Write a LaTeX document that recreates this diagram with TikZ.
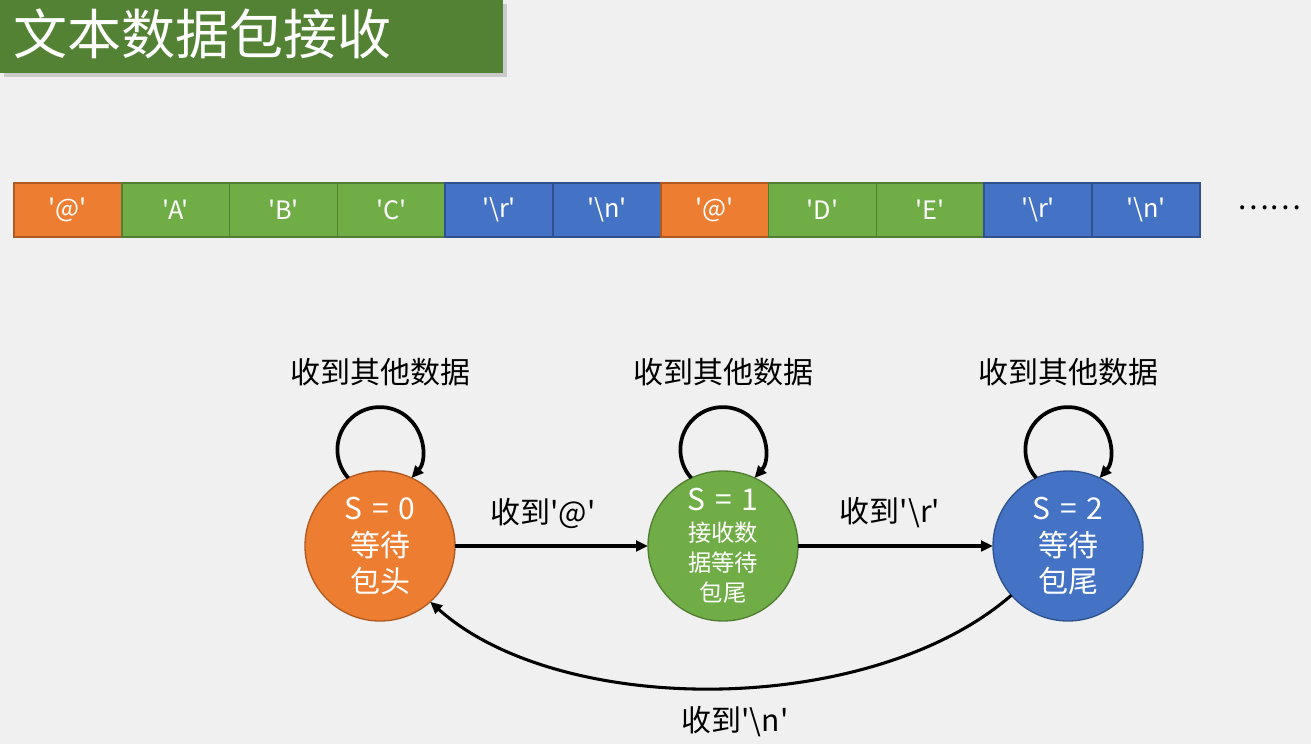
\documentclass[tikz,border=0pt]{standalone}
\usepackage{fontspec}
\setmainfont{Noto Sans CJK SC}[Ligatures=TeXOff]
\usetikzlibrary{arrows.meta}
\definecolor{bg}{HTML}{F0F0F0}
\definecolor{titlegreen}{HTML}{548235}
\definecolor{org}{HTML}{ED7D31}
\definecolor{orgb}{HTML}{AE5A21}
\definecolor{grn}{HTML}{70AD47}
\definecolor{grnb}{HTML}{507E32}
\definecolor{blu}{HTML}{4472C4}
\definecolor{blub}{HTML}{2F528F}
\newcommand{\seq}[1]{S\hspace{0.33em}=\hspace{0.33em}#1}
\tikzset{
  cell/.style={draw=#1b, fill=#1, line width=1.2pt, minimum width=80.85pt, minimum height=40.5pt,
    inner sep=0pt, outer sep=0pt, text=white, font=\fontsize{19}{21}\selectfont, anchor=west},
  state/.style={circle, draw=#1b, fill=#1, line width=1pt, minimum size=112.5pt, inner sep=0pt,
    outer sep=0pt, text=white, align=center},
  lbl/.style={font=\fontsize{22.5}{26}\selectfont, text=black, inner sep=0pt},
  arr/.style={line width=2.3pt, -{Triangle[length=9pt,width=8pt]}},
  looparr/.style={line width=2.8pt, -{Triangle[length=9pt,width=8pt]}},
}
\begin{document}
\begin{tikzpicture}[x=0.75pt,y=-0.75pt]
\useasboundingbox[fill=bg] (0,0) rectangle (1311,744);
% title
\fill[black!30, opacity=0.6] (4,4) rectangle (507,77);
\fill[titlegreen] (0,0) rectangle (503,73);
\node[anchor=west, text=white, inner sep=0pt, font=\fontsize{40.5}{44}\selectfont] (title) at (13,34) {文本数据包接收};
% cells
\node[cell=org] (c1) at (14,210) {'@'};
\node[cell=grn] (c2) at (c1.east) {'A'};
\node[cell=grn] (c3) at (c2.east) {'B'};
\node[cell=grn] (c4) at (c3.east) {'C'};
\node[cell=blu] (c5) at (c4.east) {'\textbackslash r'};
\node[cell=blu] (c6) at (c5.east) {'\textbackslash n'};
\node[cell=org] (c7) at (c6.east) {'@'};
\node[cell=grn] (c8) at (c7.east) {'D'};
\node[cell=grn] (c9) at (c8.east) {'E'};
\node[cell=blu] (c10) at (c9.east) {'\textbackslash r'};
\node[cell=blu] (c11) at (c10.east) {'\textbackslash n'};
\node[lbl] (dots) at (1269,208) {……};
% states
\node[state=org, font=\fontsize{22.5}{27.5}\selectfont] (s0) at (380,546) {\seq{0}\\等待\\包头};
\node[state=grn, font=\fontsize{17.5}{22.5}\selectfont] (s1) at (723,546) {{\fontsize{22.5}{24}\selectfont \seq{1}}\\[1pt]接收数\\据等待\\包尾};
\node[state=blu, font=\fontsize{22.5}{27.5}\selectfont] (s2) at (1068,546) {\seq{2}\\等待\\包尾};
% self loops
\foreach \s/\x in {s0/380, s1/723, s2/1068} {
  \draw[looparr] (\s.115) arc[start angle=222, end angle=-42, radius=31.875pt];
  \node[lbl] at (\x,372) {收到其他数据};
}
% transitions
\draw[arr] (s0) -- (s1);
\draw[arr] (s1) -- (s2);
\node[lbl] (l1) at (543,513) {收到'@'};
\node[lbl] (l2) at (890,513) {收到'\textbackslash r'};
\draw[arr] (s2.221) .. controls (870,718) and (560,718) .. (s0.312);
\node[lbl] (l3) at (735,722) {收到'\textbackslash n'};
\end{tikzpicture}
\end{document}
